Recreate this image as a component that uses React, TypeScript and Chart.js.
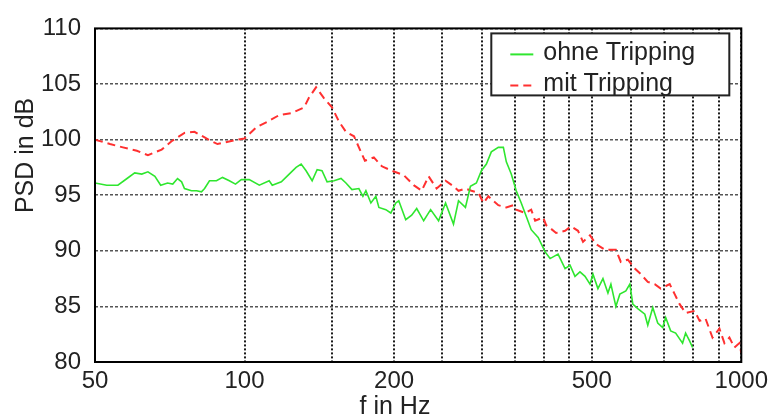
import React, { useEffect, useRef } from 'react';
import { Chart, registerables } from 'chart.js';

Chart.register(...registerables);

// ---- data ----
const seriesLabels = ['ohne Tripping', 'mit Tripping'];

const ohneFreq = [
  50, 52.8, 55.6, 58.0, 60.1, 62.1, 63.9, 66.0, 67.8, 70.0, 71.7, 73.3, 74.7, 75.7, 78.2, 80.1, 81.9, 83.1, 85.0, 87.8,
  90.3, 93.2, 95.9, 98.5, 102.2, 107.1, 112.1, 113.7, 118.6, 123.0, 127.0, 130.0, 133.0, 136.8, 140.0, 143.2, 146.6,
  151.4, 156.4, 160.0, 164.5, 169.9, 173.1, 175.5, 179.6, 183.8, 186.4, 192.5, 197.0, 201.6, 204.4, 211.1, 217.0,
  222.1, 229.4, 236.9, 245.8, 253.9, 263.4, 269.6, 278.4, 284.9, 292.9, 299.8, 306.8, 313.9, 324.2, 331.9, 336.5,
  344.3, 352.3, 360.6, 369.0, 377.6, 390.0, 402.8, 412.2, 427.7, 441.8, 452.1, 462.6, 473.4, 484.6, 495.9, 502.8,
  514.5, 526.6, 538.9, 546.4, 559.1, 569.5, 585.6, 596.5, 604.8, 618.9, 639.4, 648.2, 663.4, 678.8, 694.6, 704.3,
  720.7, 737.6, 761.7, 772.5, 786.8, 797.8,
];
const ohneDb = [
  96.1, 95.9, 95.9, 96.5, 97.0, 96.9, 97.1, 96.7, 95.9, 96.1, 96.0, 96.5, 96.2, 95.6, 95.4, 95.4, 95.3, 95.6, 96.3, 96.3,
  96.6, 96.3, 96.0, 96.4, 96.4, 95.9, 96.3, 95.9, 96.2, 96.9, 97.5, 97.8, 97.2, 96.3, 97.3, 97.2, 96.2,
  96.3, 96.5, 96.1, 95.5, 95.6, 94.9, 95.4, 94.3, 94.9, 93.9, 93.7, 93.4, 94.3, 94.5, 92.8, 93.2,
  93.8, 92.7, 93.7, 92.7, 94.3, 92.4, 94.5, 93.9, 95.8, 96.1, 97.2, 97.8, 98.9, 99.3, 99.3, 98.0,
  96.9, 95.4, 94.3, 93.1, 91.9, 91.2, 89.9, 89.3, 89.7, 88.4, 88.7, 87.7, 88.1, 87.7, 87.0, 87.9,
  86.6, 87.5, 86.2, 87.0, 85.0, 86.1, 86.4, 87.0, 85.2, 84.8, 84.3, 83.3, 84.9, 83.5, 83.1, 84.0,
  82.8, 82.6, 81.7, 82.6, 81.9, 81.3,
];

const mitFreq = [
  50, 53.6, 56.9, 60.7, 63.9, 68.1, 71.3, 75.7, 79.3, 83.8, 88.2, 94.5, 100, 105.6, 111.1, 117.4, 124.7, 131.8, 134.9,
  139.3, 144.6, 150.0, 155.0, 160.0, 166.1, 169.9, 174.7, 182.1, 189.0, 197.9, 209.2, 219.0, 227.3, 234.7, 243.6,
  253.9, 263.4, 269.6, 278.4, 286.3, 295.7, 302.6, 309.6, 316.8, 324.2, 336.5, 347.5, 352.3, 367.3, 377.6, 384.6,
  399.1, 404.7, 408.4, 423.8, 441.8, 454.2, 469.1, 480.1, 495.9, 509.7, 531.4, 559.1, 572.2, 591.0, 610.5, 627.6,
  648.2, 669.5, 688.3, 717.6, 734.3, 751.4, 772.5, 805.3, 824.1, 847.2, 874.9, 903.6, 924.7, 946.4, 968.6, 991.2, 1000,
];
const mitDb = [
  100.0, 99.6, 99.3, 99.0, 98.6, 99.1, 99.85, 100.6, 100.7, 100.1, 99.6, 99.9, 100.1, 101.1, 101.6, 102.2, 102.4, 102.9, 103.8,
  104.7, 103.7, 102.9, 101.6, 100.7, 100.3, 99.3, 98.1, 98.4, 97.6, 97.2, 96.8, 95.9, 95.4, 96.7, 95.6,
  96.3, 95.8, 95.4, 95.6, 95.4, 95.2, 94.3, 94.9, 94.5, 94.1, 93.9, 94.1, 93.7, 93.4, 93.7, 92.7,
  93.0, 92.3, 92.2, 91.6, 91.8, 92.2, 91.8, 90.8, 91.4, 90.6, 90.1, 90.1, 89.0, 89.2, 88.4, 87.9,
  87.2, 87.0, 86.6, 87.0, 86.1, 85.2, 84.4, 84.6, 83.7, 83.9, 82.2, 83.0, 81.7, 82.2, 81.3, 81.7, 80.8,
];

const xGridTicks = [50, 100, 150, 200, 250, 300, 350, 400, 450, 500, 600, 700, 800, 900, 1000];
const xLabelTicks = [50, 100, 200, 500, 1000];
const yMin = 80;
const yMax = 110;
const yStep = 5;
const xTitle = 'f in Hz';
const yTitle = 'PSD in dB';

const FONT = "'Liberation Sans', Arial, Helvetica, sans-serif";
const GREEN = '#2fe62f';
const RED = '#ff3030';

const decorPlugin = {
  id: 'decor',
  afterDraw(chart: any) {
    const { ctx, chartArea: a } = chart;
    ctx.save();
    // frame
    ctx.strokeStyle = '#000';
    ctx.lineWidth = 2;
    ctx.setLineDash([]);
    ctx.strokeRect(a.left, a.top, a.right - a.left, a.bottom - a.top);

    // axis titles
    ctx.fillStyle = '#222';
    ctx.font = `25px ${FONT}`;
    ctx.textAlign = 'center';
    ctx.textBaseline = 'middle';
    ctx.fillText(xTitle, a.left + 300, a.bottom + 45);
    ctx.save();
    ctx.translate(a.left - 69, a.top + 127);
    ctx.rotate(-Math.PI / 2);
    ctx.fillText(yTitle, 0, 0);
    ctx.restore();

    // legend
    const lx = a.right - 250;
    const ly = a.top + 5;
    const lw = 238;
    const lh = 62;
    ctx.fillStyle = '#fff';
    ctx.fillRect(lx, ly, lw, lh);
    ctx.strokeStyle = '#222';
    ctx.lineWidth = 2;
    ctx.strokeRect(lx, ly, lw, lh);
    const ds = chart.data.datasets;
    const rows = [ly + 21, ly + 52];
    ds.forEach((d: any, i: number) => {
      ctx.strokeStyle = d.borderColor;
      ctx.lineWidth = 2;
      ctx.setLineDash(d.borderDash || []);
      ctx.beginPath();
      ctx.moveTo(lx + 19, rows[i]);
      ctx.lineTo(lx + 42, rows[i]);
      ctx.stroke();
      ctx.setLineDash([]);
      ctx.fillStyle = '#222';
      ctx.font = `25px ${FONT}`;
      ctx.textAlign = 'left';
      ctx.textBaseline = 'alphabetic';
      ctx.fillText(d.label, lx + 52, rows[i] + 6);
    });
    ctx.restore();
  },
};

export default function App() {
  const ref = useRef<HTMLCanvasElement | null>(null);

  useEffect(() => {
    if (!ref.current) return;
    const chart = new Chart(ref.current, {
      type: 'line',
      data: {
        datasets: [
          {
            label: seriesLabels[0],
            data: ohneFreq.map((f, i) => ({ x: f, y: ohneDb[i] })),
            borderColor: GREEN,
            borderWidth: 1.6,
            pointRadius: 0,
            tension: 0,
            fill: false,
          },
          {
            label: seriesLabels[1],
            data: mitFreq.map((f, i) => ({ x: f, y: mitDb[i] })),
            borderColor: RED,
            borderWidth: 2,
            borderDash: [8, 5],
            pointRadius: 0,
            tension: 0,
            fill: false,
          },
        ],
      },
      options: {
        responsive: false,
        animation: false,
        devicePixelRatio: 1,
        layout: { padding: { left: 0, right: 29, top: 22, bottom: 0 } },
        plugins: { legend: { display: false }, tooltip: { enabled: false } },
        scales: {
          x: {
            type: 'logarithmic',
            min: 50,
            max: 1000,
            afterBuildTicks: (s: any) => {
              s.ticks = xGridTicks.map((v) => ({ value: v }));
            },
            afterFit: (s: any) => {
              s.height = 57;
            },
            ticks: {
              autoSkip: false,
              maxRotation: 0,
              minRotation: 0,
              padding: 5,
              color: '#222',
              font: { family: FONT, size: 24 },
              callback: (v: any) => (xLabelTicks.includes(Number(v)) ? String(v) : ''),
            },
            grid: { color: '#1a1a1a', lineWidth: 2, drawTicks: false },
            border: { display: false, dash: [2, 2] },
          },
          y: {
            type: 'linear',
            min: yMin,
            max: yMax,
            afterFit: (s: any) => {
              s.width = 95;
            },
            ticks: {
              stepSize: yStep,
              padding: 14,
              color: '#222',
              font: { family: FONT, size: 24 },
            },
            grid: { color: '#555', lineWidth: 1.5, drawTicks: false },
            border: { display: false, dash: [3, 2] },
          },
        },
      },
      plugins: [decorPlugin],
    } as any);
    return () => chart.destroy();
  }, []);

  return (
    <div style={{ position: 'fixed', left: 0, top: 0, width: 773, height: 419, background: '#fff' }}>
      <canvas ref={ref} width={773} height={419} style={{ display: 'block' }} />
    </div>
  );
}
